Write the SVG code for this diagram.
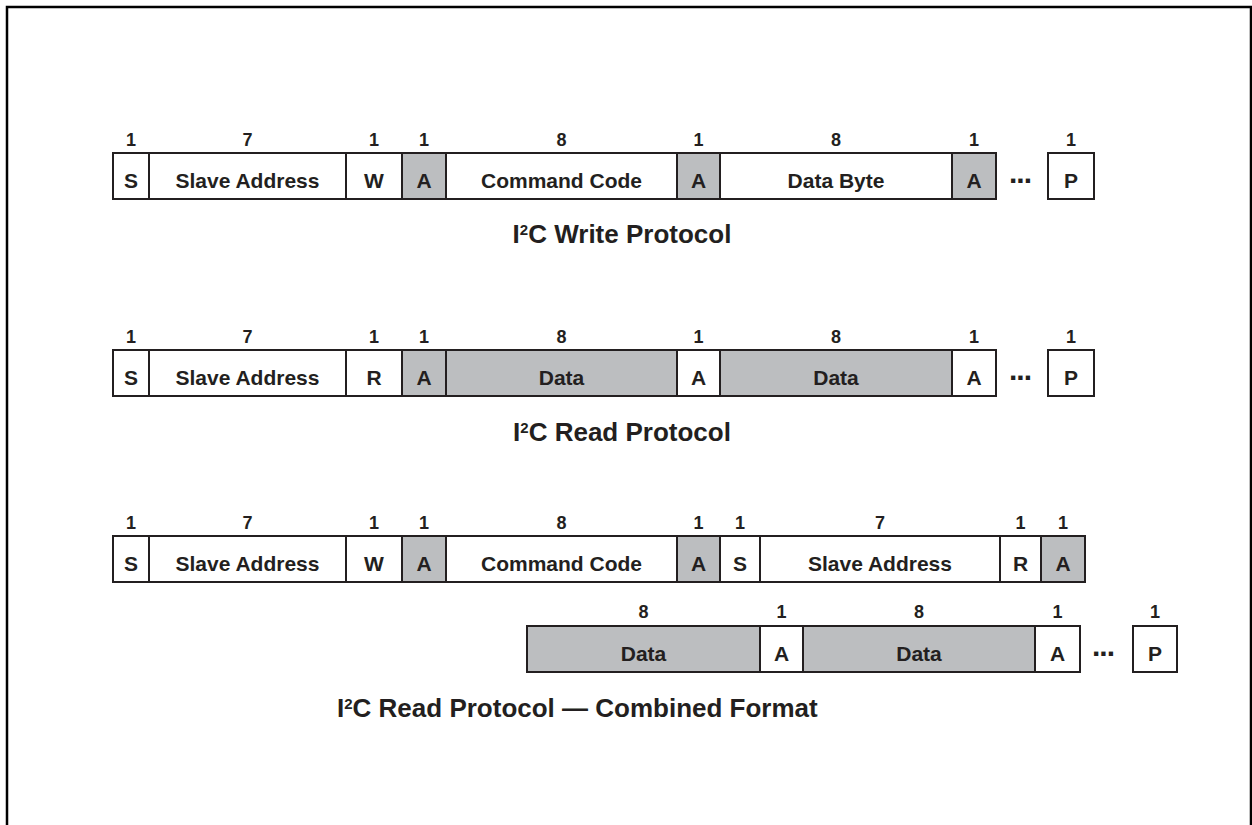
<svg xmlns="http://www.w3.org/2000/svg" width="1252" height="825" viewBox="0 0 1252 825">
<style>
.f{stroke:#231f20;stroke-width:2;fill:#fff}
.g{stroke:#231f20;stroke-width:2;fill:#bcbec0}
.l{font-family:"Liberation Sans",Arial,sans-serif;font-weight:bold;font-size:21px;fill:#231f20;text-anchor:middle}
.n{font-family:"Liberation Sans",Arial,sans-serif;font-weight:bold;font-size:18px;fill:#231f20;text-anchor:middle}
.t{font-family:"Liberation Sans",Arial,sans-serif;font-weight:bold;font-size:26px;fill:#231f20}
.d{font-family:"Liberation Sans",Arial,sans-serif;font-weight:bold;font-size:30px;fill:#231f20;letter-spacing:-1px}
</style>
<rect width="1252" height="825" fill="#fff"/>
<path d="M7,830 V7 H1251 V830" fill="none" stroke="#000" stroke-width="2.5"/>

<g id="write">
<rect class="f" x="113" y="153" width="36" height="46"/><text class="n" x="131" y="146">1</text><text class="l" x="131" y="188">S</text>
<rect class="f" x="149" y="153" width="197" height="46"/><text class="n" x="247.5" y="146">7</text><text class="l" x="247.5" y="188">Slave Address</text>
<rect class="f" x="346" y="153" width="56" height="46"/><text class="n" x="374" y="146">1</text><text class="l" x="374" y="188">W</text>
<rect class="g" x="402" y="153" width="44" height="46"/><text class="n" x="424" y="146">1</text><text class="l" x="424" y="188">A</text>
<rect class="f" x="446" y="153" width="231" height="46"/><text class="n" x="561.5" y="146">8</text><text class="l" x="561.5" y="188">Command Code</text>
<rect class="g" x="677" y="153" width="43" height="46"/><text class="n" x="698.5" y="146">1</text><text class="l" x="698.5" y="188">A</text>
<rect class="f" x="720" y="153" width="232" height="46"/><text class="n" x="836" y="146">8</text><text class="l" x="836" y="188">Data Byte</text>
<rect class="g" x="952" y="153" width="44" height="46"/><text class="n" x="974" y="146">1</text><text class="l" x="974" y="188">A</text>
<text class="d" x="1009" y="183">...</text>
<rect class="f" x="1048" y="153" width="46" height="46"/><text class="n" x="1071" y="146">1</text><text class="l" x="1071" y="188">P</text>
<text class="t" x="622" y="243" text-anchor="middle">I<tspan font-size="15" dy="-8">2</tspan><tspan dy="8">C Write Protocol</tspan></text>
</g>

<g id="read">
<rect class="f" x="113" y="350" width="36" height="46"/><text class="n" x="131" y="343">1</text><text class="l" x="131" y="385">S</text>
<rect class="f" x="149" y="350" width="197" height="46"/><text class="n" x="247.5" y="343">7</text><text class="l" x="247.5" y="385">Slave Address</text>
<rect class="f" x="346" y="350" width="56" height="46"/><text class="n" x="374" y="343">1</text><text class="l" x="374" y="385">R</text>
<rect class="g" x="402" y="350" width="44" height="46"/><text class="n" x="424" y="343">1</text><text class="l" x="424" y="385">A</text>
<rect class="g" x="446" y="350" width="231" height="46"/><text class="n" x="561.5" y="343">8</text><text class="l" x="561.5" y="385">Data</text>
<rect class="f" x="677" y="350" width="43" height="46"/><text class="n" x="698.5" y="343">1</text><text class="l" x="698.5" y="385">A</text>
<rect class="g" x="720" y="350" width="232" height="46"/><text class="n" x="836" y="343">8</text><text class="l" x="836" y="385">Data</text>
<rect class="f" x="952" y="350" width="44" height="46"/><text class="n" x="974" y="343">1</text><text class="l" x="974" y="385">A</text>
<text class="d" x="1009" y="380">...</text>
<rect class="f" x="1048" y="350" width="46" height="46"/><text class="n" x="1071" y="343">1</text><text class="l" x="1071" y="385">P</text>
<text class="t" x="622" y="441" text-anchor="middle">I<tspan font-size="15" dy="-8">2</tspan><tspan dy="8">C Read Protocol</tspan></text>
</g>

<g id="combined">
<rect class="f" x="113" y="536" width="36" height="46"/><text class="n" x="131" y="529">1</text><text class="l" x="131" y="571">S</text>
<rect class="f" x="149" y="536" width="197" height="46"/><text class="n" x="247.5" y="529">7</text><text class="l" x="247.5" y="571">Slave Address</text>
<rect class="f" x="346" y="536" width="56" height="46"/><text class="n" x="374" y="529">1</text><text class="l" x="374" y="571">W</text>
<rect class="g" x="402" y="536" width="44" height="46"/><text class="n" x="424" y="529">1</text><text class="l" x="424" y="571">A</text>
<rect class="f" x="446" y="536" width="231" height="46"/><text class="n" x="561.5" y="529">8</text><text class="l" x="561.5" y="571">Command Code</text>
<rect class="g" x="677" y="536" width="43" height="46"/><text class="n" x="698.5" y="529">1</text><text class="l" x="698.5" y="571">A</text>
<rect class="f" x="720" y="536" width="40" height="46"/><text class="n" x="740" y="529">1</text><text class="l" x="740" y="571">S</text>
<rect class="f" x="760" y="536" width="240" height="46"/><text class="n" x="880" y="529">7</text><text class="l" x="880" y="571">Slave Address</text>
<rect class="f" x="1000" y="536" width="41" height="46"/><text class="n" x="1020.5" y="529">1</text><text class="l" x="1020.5" y="571">R</text>
<rect class="g" x="1041" y="536" width="44" height="46"/><text class="n" x="1063" y="529">1</text><text class="l" x="1063" y="571">A</text>

<rect class="g" x="527" y="626" width="233" height="46"/><text class="n" x="643.5" y="618">8</text><text class="l" x="643.5" y="661">Data</text>
<rect class="f" x="760" y="626" width="43" height="46"/><text class="n" x="781.5" y="618">1</text><text class="l" x="781.5" y="661">A</text>
<rect class="g" x="803" y="626" width="232" height="46"/><text class="n" x="919" y="618">8</text><text class="l" x="919" y="661">Data</text>
<rect class="f" x="1035" y="626" width="45" height="46"/><text class="n" x="1057.5" y="618">1</text><text class="l" x="1057.5" y="661">A</text>
<text class="d" x="1092" y="656">...</text>
<rect class="f" x="1133" y="626" width="44" height="46"/><text class="n" x="1155" y="618">1</text><text class="l" x="1155" y="661">P</text>
<text class="t" x="337" y="717">I<tspan font-size="15" dy="-8">2</tspan><tspan dy="8">C Read Protocol — Combined Format</tspan></text>
</g>
</svg>
